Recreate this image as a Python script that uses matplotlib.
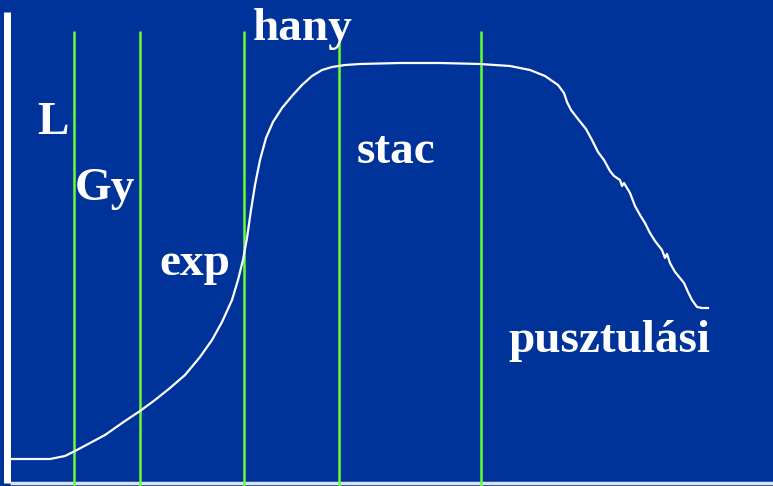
import matplotlib
matplotlib.use("Agg")
import matplotlib.pyplot as plt

# Growth curve (arbitrary units: time vs. log cell count)
time = [10, 30, 50, 65, 75, 90, 105, 115, 125, 140, 155, 170, 185, 200, 212,
        222, 232, 238, 243, 247, 251, 255, 260, 266, 273, 282, 292, 302, 312,
        322, 332, 345, 360, 400, 440, 480, 510, 530, 545, 558, 564, 567, 571,
        578, 586, 592, 598, 604, 610, 614, 620, 622, 624, 630, 635, 640, 645,
        650, 655, 662, 665, 667, 670, 675, 680, 684, 688, 692, 697, 702, 708]
pix_y = [459, 459, 459, 456, 451, 443, 435, 428, 421, 411, 400, 388, 375, 357,
         340, 322, 300, 280, 260, 238, 210, 185, 160, 138, 122, 108, 96, 85, 76,
         70, 67, 65, 64, 63, 63, 64, 66, 70, 76, 85, 93, 102, 110, 119, 129,
         140, 152, 160, 171, 176, 180, 186, 183, 193, 206, 215, 223, 233, 241,
         250, 258, 254, 263, 272, 278, 283, 292, 300, 307, 308, 308]
log_count = [486 - v for v in pix_y]

# Phase boundaries
phase_bounds = [74, 140, 244, 339, 481]

# Phase labels
labels = ["L", "Gy", "exp", "hany", "stac", "pusztulási"]
label_x = [37, 75, 159, 253, 357, 508]
label_y = [486 - v for v in [134, 200, 275, 40, 163, 352]]

bg = "#003399"
green = "#66ff33"

fig = plt.figure(figsize=(7.73, 4.86), dpi=100, facecolor=bg)
ax = fig.add_axes([0, 0, 1, 1])
ax.set_facecolor(bg)
ax.set_xlim(0, 773)
ax.set_ylim(0, 486)
for s in ax.spines.values():
    s.set_visible(False)
ax.set_xticks([])
ax.set_yticks([])

# axes drawn as thick white lines
ax.plot([6.5, 6.5], [3, 474], color="white", lw=5, solid_capstyle="butt")
ax.plot([10, 773], [3, 3], color="#dde4f0", lw=2.5, solid_capstyle="butt")

for xb in phase_bounds:
    ax.plot([xb, xb], [0, 455], color=green, lw=1.8, solid_capstyle="butt")

ax.plot(time, log_count, color="white", lw=1.6)

for t, x, y in zip(labels, label_x, label_y):
    ax.text(x, y, t, color="white", fontsize=34, fontweight="bold",
            family="Liberation Serif", ha="left", va="baseline")

fig.savefig("out.png", dpi=100, facecolor=bg)
